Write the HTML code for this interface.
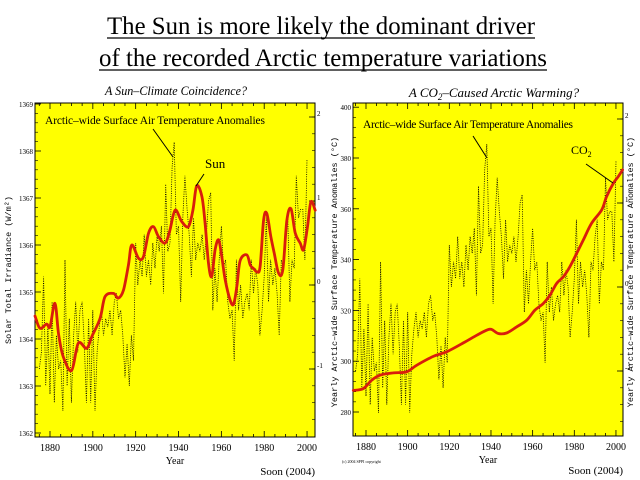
<!DOCTYPE html>
<html><head><meta charset="utf-8"><style>
body{margin:0;background:#fff;width:640px;height:480px;overflow:hidden}
svg{display:block}
.t{font-family:"Liberation Serif",serif}
.m{font-family:"Liberation Mono",monospace}
</style></head><body>
<svg id="c" width="640" height="480" xmlns="http://www.w3.org/2000/svg">
<text class="t" x="321" y="34" text-anchor="middle" font-size="25" textLength="428" lengthAdjust="spacingAndGlyphs">The Sun is more likely the dominant driver</text>
<line x1="107" y1="38" x2="535" y2="38" stroke="#000" stroke-width="1.2"/>
<text class="t" x="323" y="66" text-anchor="middle" font-size="25" textLength="448" lengthAdjust="spacingAndGlyphs">of the recorded Arctic temperature variations</text>
<line x1="99" y1="70" x2="547" y2="70" stroke="#000" stroke-width="1.2"/>
<text class="t" x="176" y="95" text-anchor="middle" font-size="13" font-style="italic" textLength="142" lengthAdjust="spacingAndGlyphs">A Sun–Climate Coincidence?</text>
<text class="t" x="494" y="97" text-anchor="middle" font-size="13" font-style="italic">A CO<tspan font-size="9" dy="3">2</tspan><tspan dy="-3">–Caused Arctic Warming?</tspan></text>
</svg>
<script>
const years=[];for(let y=1875;y<=2000;y++)years.push(y);
const tempAnom=[-1.0,-0.8,0.1,-1.2,-0.5,-1.3,-0.2,-1.4,-0.6,-1.0,-0.9,-1.5,0.3,-1.2,-0.4,-1.4,-0.6,-0.2,-0.8,-0.3,-0.2,-0.7,-1.4,-0.4,-1.4,-0.3,-1.5,-0.8,-0.5,-0.3,-0.6,-0.4,-0.5,-0.3,-0.6,-0.2,-0.1,-0.4,-0.3,-0.6,-1.1,-0.7,-1.2,-0.6,-0.9,0.5,0.0,0.3,0.1,0.6,0.1,0.3,0.0,0.5,0.2,0.6,0.4,0.7,-0.1,1.2,0.4,0.5,1.4,1.7,0.6,0.7,-0.2,0.8,1.3,0.9,0.6,0.1,0.8,0.3,0.5,0.4,0.6,0.3,0.6,1.0,1.1,-0.3,0.2,-0.2,0.3,0.7,0.2,0.3,-0.2,-0.4,-0.3,-0.9,0.3,-0.3,0.0,-0.4,-0.2,-0.1,-0.3,0.3,-0.1,0.2,0.0,-0.6,-0.3,0.1,0.8,-0.2,0.3,0.0,0.2,-0.1,-0.6,0.3,0.2,0.6,0.8,-0.2,0.3,0.2,1.3,0.8,0.9,0.9,0.3,1.5];
const sunYears=[1873,1875.3,1878.4,1880,1882.3,1884,1886.2,1890.1,1893.2,1897.1,1899.5,1903.4,1905.7,1909.6,1911.9,1914.3,1916.6,1918.2,1921.3,1923.6,1926,1928.3,1930.6,1933.7,1935.8,1938.4,1941.5,1944.6,1946.7,1948.5,1950.9,1952.4,1954,1955.5,1957.1,1958.7,1960.2,1961.8,1964.1,1965.7,1967.2,1968.8,1971.9,1973.5,1975,1976.6,1978.1,1979.7,1981.2,1983.1,1984.7,1986.7,1988.7,1990.6,1992.5,1994.5,1996.8,1998.4,2000.2,2001.8,2003.8];
const sunTSI=[1364.49,1364.23,1364.32,1364.26,1364.76,1364.1,1363.62,1363.33,1363.91,1363.8,1364.05,1364.44,1364.9,1364.97,1364.87,1365.04,1365.57,1366.0,1365.72,1365.75,1366.25,1366.39,1366.18,1366.04,1366.28,1366.74,1366.5,1366.39,1366.74,1367.26,1367.03,1366.46,1365.61,1365.33,1365.9,1366.11,1365.75,1365.26,1364.83,1364.74,1365.11,1365.67,1365.79,1365.57,1365.5,1365.43,1365.54,1366.53,1366.67,1366.18,1365.82,1365.4,1365.47,1366.53,1366.77,1366.25,1366.04,1365.9,1366.39,1366.92,1366.74];
const co2Years=[1873.9,1878.7,1882.7,1886.7,1893.1,1899.5,1904.3,1912.3,1918.7,1926.7,1933.1,1937.9,1940.3,1943.5,1947.5,1952.3,1957.1,1961.1,1965.1,1968.3,1971.5,1974.7,1977.9,1981.1,1984.3,1988.3,1993.1,1995.5,1998.7,2001.1,2003.2];
const co2Vals=[288.5,289.2,292.5,294.5,295.4,295.8,298.4,301.9,303.7,307.2,310.2,312.2,312.5,310.9,311.1,313.5,316.1,320.1,322.7,326,330.6,333.2,337.2,342.4,347.7,354.3,359.5,364.8,370,372.7,375.3];
const xTicks=[1880,1900,1920,1940,1960,1980,2000];
const sunTicks=[1362,1363,1364,1365,1366,1367,1368,1369];
const co2Ticks=[280,300,320,340,360,380,400];
const tempTicks=[-1,0,1,2];

const svg=document.getElementById('c');const NS='http://www.w3.org/2000/svg';
function mk(tag,attrs,parent){const e=document.createElementNS(NS,tag);for(const k in attrs)e.setAttribute(k,attrs[k]);(parent||svg).appendChild(e);return e;}
function txt(x,y,s,size,cls,anchor,parent){const e=mk('text',{x:x,y:y,'font-size':size,class:cls,'text-anchor':anchor||'middle'},parent);e.textContent=s;return e;}
function smooth(pts){let d='M'+pts[0][0].toFixed(1)+','+pts[0][1].toFixed(1);
  for(let i=0;i<pts.length-1;i++){const p0=pts[Math.max(0,i-1)],p1=pts[i],p2=pts[i+1],p3=pts[Math.min(pts.length-1,i+2)];
    const c1x=p1[0]+(p2[0]-p0[0])/6,c1y=p1[1]+(p2[1]-p0[1])/6,c2x=p2[0]-(p3[0]-p1[0])/6,c2y=p2[1]-(p3[1]-p1[1])/6;
    d+='C'+c1x.toFixed(1)+','+c1y.toFixed(1)+' '+c2x.toFixed(1)+','+c2y.toFixed(1)+' '+p2[0].toFixed(1)+','+p2[1].toFixed(1);}
  return d;}

function panel(P){
  const g=mk('g',{});
  
  
  const X=y=>P.x0+(y-1880)*P.xs;
  const YL=v=>P.yl0+(v-P.vl0)*P.yls;
  const YT=t=>P.yt0-t*P.yts;
  const bg=mk('rect',{x:P.L,y:P.T,width:P.R-P.L,height:P.B-P.T,fill:'#ffff00',stroke:'#000','stroke-width':1},g);
  
  
  for(let yr=1875;yr<=2000;yr+=5){const x=X(yr);if(x<P.L||x>P.R)continue;const big=yr%20===0;const l=big?6:3;
    mk('line',{x1:x,y1:P.B,x2:x,y2:P.B-l,stroke:'#000','stroke-width':0.8},g);mk('line',{x1:x,y1:P.T,x2:x,y2:P.T+l,stroke:'#000','stroke-width':0.8},g);}
  xTicks.forEach(yr=>{const t=txt(X(yr),P.B+14,String(yr),10,'t','middle',g);});
  P.lTicks.forEach(v=>{const y=YL(v);mk('line',{x1:P.L,y1:y,x2:P.L+6,y2:y,stroke:'#000','stroke-width':0.8},g);
    const t=txt(P.L-2,y+3,String(v),7,'t','end',g);});
  for(let i=0;i<P.lTicks.length-1;i++){for(let k=1;k<5;k++){const y=YL(P.lTicks[i]+(P.lTicks[i+1]-P.lTicks[i])*k/5);mk('line',{x1:P.L,y1:y,x2:P.L+3,y2:y,stroke:'#000','stroke-width':0.6},g);}}
  tempTicks.forEach(t0=>{const y=YT(t0);mk('line',{x1:P.R,y1:y,x2:P.R-6,y2:y,stroke:'#000','stroke-width':0.8},g);
    const t=txt(P.R+2,y-1,String(t0),7,'t','start',g);});
  for(let v=-1.6;v<=2.2;v+=0.2){const y=YT(v);if(y<P.T||y>P.B)continue;mk('line',{x1:P.R,y1:y,x2:P.R-3,y2:y,stroke:'#000','stroke-width':0.6},g);}
  let d='';years.forEach((yr,i)=>{d+=(i?'L':'M')+X(yr).toFixed(1)+','+YT(tempAnom[i]).toFixed(1);});
  const tl=mk('path',{d:d,fill:'none',stroke:'#000','stroke-width':0.8,'stroke-dasharray':'1,1.3'},g);
  
  
  const pts=P.sx.map((yr,i)=>[X(yr),YL(P.sv[i])]);
  const rl=mk('path',{d:smooth(pts),fill:'none',stroke:'#d81e0c','stroke-width':2.8,'stroke-linejoin':'round','stroke-linecap':'round'},g);
  
  
  const xl=txt((P.L+P.R)/2,P.B+27,'Year',10,'t','middle',g);
  
  
  const sn=txt(P.R,P.B+38,'Soon (2004)',11,'t','end',g);
  
  
  return g;
}
panel({name:'left-panel',L:35,R:315,T:103,B:437,x0:50,xs:2.142,yl0:433,vl0:1362,yls:-47,yt0:285,yts:84,lTicks:sunTicks,sx:sunYears,sv:sunTSI,redName:'sun-tsi-line'});
panel({name:'right-panel',L:353,R:623,T:103,B:436,x0:366,xs:2.083,yl0:412,vl0:280,yls:-2.54,yt0:287,yts:84,lTicks:co2Ticks,sx:co2Years,sv:co2Vals,redName:'co2-line'});

function ann(x,y,s,size,name){const t=txt(x,y,s,size,'t','start');return t;}
ann(45,124,'Arctic–wide Surface Air Temperature Anomalies',11.5,'temperature-annotation-left').setAttribute('textLength','220');
ann(363,128,'Arctic–wide Surface Air Temperature Anomalies',11.5,'temperature-annotation-right').setAttribute('textLength','210');
ann(205,168,'Sun',13,'sun-annotation');
const co2=ann(571,154,'CO',12,'co2-annotation');const sub=mk('tspan',{'font-size':8,dy:3},co2);sub.textContent='2';
[[153,129,173,157],[204,174,196,186],[473,136,487,158],[586,164,613,183]].forEach(l=>{const e=mk('line',{x1:l[0],y1:l[1],x2:l[2],y2:l[3],stroke:'#000','stroke-width':1});});
function rot(x,y,s,name,sz){const t=txt(x,y,s,sz||8.5,'m','middle');t.setAttribute('transform','rotate(-90 '+x+' '+y+')');return t;}
rot(11,270,'Solar Total Irradiance (W/m²)','left-y-axis-title');
rot(337,272,'Yearly Arctic–wide Surface Temperature Anomalies (°C)','middle-y-axis-title');
rot(633,272,'Yearly Arctic–wide Surface Temperature Anomalies (°C)','right-y-axis-title');
const cp=txt(342,463,'(c) 2004 SPPI copyright',4,'t','start');


</script>
</body></html>
